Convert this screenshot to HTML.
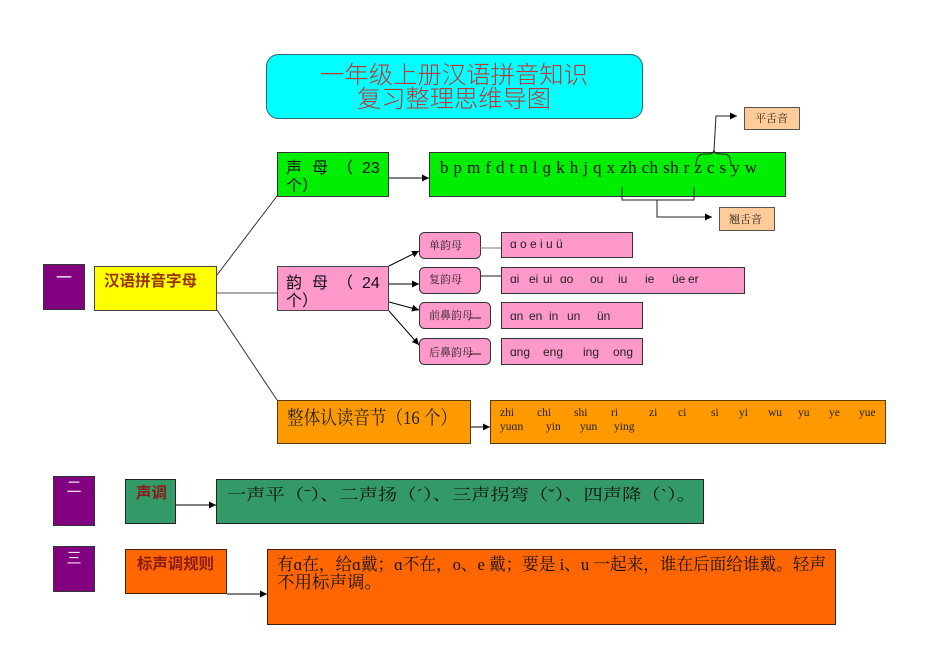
<!DOCTYPE html>
<html><head><meta charset="utf-8"><style>
html,body{margin:0;padding:0;background:#fff;width:950px;height:672px;overflow:hidden}
svg{display:block}
.sans{font-family:"Liberation Sans","Noto Sans CJK SC",sans-serif}
.serif{font-family:"Liberation Serif","Noto Serif CJK SC",serif}
</style></head><body>
<svg width="950" height="672" viewBox="0 0 950 672" xmlns="http://www.w3.org/2000/svg">
<defs>
<marker id="ah" viewBox="0 0 10 10" refX="10" refY="5" markerWidth="7" markerHeight="7" orient="auto" markerUnits="userSpaceOnUse">
<path d="M0,0 L10,5 L0,10 z" fill="#000"/></marker>
</defs>

<!-- Title -->
<rect x="266.5" y="54.5" width="376" height="64" rx="12" ry="12" fill="#00FFFF" stroke="#2F6B6B" stroke-width="1"/>
<text class="sans" x="320" y="83" font-size="24" font-weight="300" fill="#C03434" textLength="268" lengthAdjust="spacingAndGlyphs">一年级上册汉语拼音知识</text>
<text class="sans" x="357" y="107" font-size="24" font-weight="300" fill="#C03434" textLength="194" lengthAdjust="spacingAndGlyphs">复习整理思维导图</text>

<!-- connector lines from yellow -->
<line x1="217" y1="275" x2="277" y2="196" stroke="#333" stroke-width="1"/>
<line x1="217" y1="293" x2="277" y2="293" stroke="#555" stroke-width="1"/>
<line x1="217" y1="310" x2="277" y2="400" stroke="#333" stroke-width="1"/>

<!-- 声母 -->
<rect x="277.5" y="152.5" width="111" height="44" fill="#00EE00" stroke="#333" stroke-width="1"/>
<text class="sans" font-size="16" fill="#111">
<tspan x="286" y="173">声</tspan><tspan x="312" y="173">母</tspan><tspan x="337" y="173">（</tspan><tspan x="362" y="173">23</tspan>
<tspan x="286" y="191">个）</tspan></text>
<line x1="389" y1="178" x2="429" y2="178" stroke="#000" stroke-width="1" marker-end="url(#ah)"/>

<!-- letters -->
<rect x="429.5" y="152.5" width="356" height="44" fill="#00EE00" stroke="#333" stroke-width="1"/>
<text class="serif" x="440" y="173" font-size="17" fill="#111" textLength="317" lengthAdjust="spacing">b p m f d t n l ɡ k h j q x zh ch sh r z c s y w</text>

<!-- bracket under zh..z -->
<polyline points="622,187 622,200 694,200 694,187" fill="none" stroke="#222" stroke-width="1"/>
<polyline points="657,200 657,217 712,217" fill="none" stroke="#222" stroke-width="1" marker-end="url(#ah)"/>
<rect x="719.5" y="207.5" width="55" height="23" fill="#FFCC99" stroke="#555" stroke-width="1"/>
<text class="serif" x="729" y="223" font-size="11" fill="#222">翘舌音</text>

<!-- brace above z c s y -->
<path d="M696,166 Q696,154 704,154 L709,154 Q713,154 714,150 Q715,154 719,154 L724,154 Q731,154 731,166" fill="none" stroke="#222" stroke-width="1"/>
<polyline points="714,150 716,116 737,116" fill="none" stroke="#222" stroke-width="1" marker-end="url(#ah)"/>
<rect x="744.5" y="107.5" width="55" height="22" fill="#FFCC99" stroke="#555" stroke-width="1"/>
<text class="serif" x="755" y="122" font-size="11" fill="#222">平舌音</text>

<!-- 一 -->
<rect x="43.5" y="264.5" width="41" height="45" fill="#800080" stroke="#333" stroke-width="1"/>
<text class="sans" x="64" y="283" font-size="16" fill="#fff" text-anchor="middle">一</text>

<!-- yellow -->
<rect x="94.5" y="266.5" width="122" height="44" fill="#FFFF00" stroke="#444" stroke-width="1"/>
<text class="sans" x="104" y="286" font-size="15.5" font-weight="bold" fill="#993300" textLength="93" lengthAdjust="spacingAndGlyphs">汉语拼音字母</text>

<!-- 韵母 -->
<rect x="277.5" y="266.5" width="111" height="44" fill="#FF99CC" stroke="#444" stroke-width="1"/>
<text class="sans" font-size="16" fill="#111">
<tspan x="286" y="288">韵</tspan><tspan x="312" y="288">母</tspan><tspan x="337" y="288">（</tspan><tspan x="362" y="288">24</tspan>
<tspan x="286" y="306">个）</tspan></text>

<line x1="389" y1="266" x2="419" y2="251" stroke="#000" stroke-width="1" marker-end="url(#ah)"/>
<line x1="389" y1="284" x2="419" y2="284" stroke="#000" stroke-width="1" marker-end="url(#ah)"/>
<line x1="389" y1="302" x2="419" y2="310" stroke="#000" stroke-width="1" marker-end="url(#ah)"/>
<line x1="389" y1="311" x2="419" y2="345" stroke="#000" stroke-width="1" marker-end="url(#ah)"/>

<!-- 单韵母 -->
<rect x="419.5" y="232.5" width="61" height="26" rx="5" fill="#FF99CC" stroke="#333" stroke-width="1"/>
<text class="serif" x="429" y="249" font-size="11" fill="#222">单韵母</text>
<line x1="480" y1="248" x2="501" y2="248" stroke="#777" stroke-width="1"/>
<rect x="501.5" y="232.5" width="131" height="25" fill="#FF99CC" stroke="#333" stroke-width="1"/>
<text class="sans" x="510" y="248" font-size="12" fill="#222">ɑ o e i u ü</text>

<!-- 复韵母 -->
<rect x="419.5" y="267.5" width="61" height="26" rx="5" fill="#FF99CC" stroke="#333" stroke-width="1"/>
<text class="serif" x="429" y="283" font-size="11" fill="#222">复韵母</text>
<line x1="480" y1="276" x2="501" y2="276" stroke="#222" stroke-width="1"/>
<rect x="501.5" y="267.5" width="243" height="26" fill="#FF99CC" stroke="#333" stroke-width="1"/>
<text class="sans" font-size="12" fill="#222">
<tspan x="510" y="283">ɑi</tspan><tspan x="529" y="283">ei</tspan><tspan x="543" y="283">ui</tspan><tspan x="560" y="283">ɑo</tspan><tspan x="590" y="283">ou</tspan><tspan x="618" y="283">iu</tspan><tspan x="645" y="283">ie</tspan><tspan x="672" y="283">üe</tspan><tspan x="688" y="283">er</tspan></text>

<!-- 前鼻韵母 -->
<rect x="419.5" y="302.5" width="71" height="26" rx="5" fill="#FF99CC" stroke="#333" stroke-width="1"/>
<text class="serif" x="429" y="319" font-size="11" fill="#222">前鼻韵母</text>
<line x1="470" y1="318" x2="481" y2="318" stroke="#222" stroke-width="1"/>
<rect x="501.5" y="302.5" width="141" height="26" fill="#FF99CC" stroke="#333" stroke-width="1"/>
<text class="sans" font-size="12" fill="#222">
<tspan x="510" y="320">ɑn</tspan><tspan x="529" y="320">en</tspan><tspan x="549" y="320">in</tspan><tspan x="567" y="320">un</tspan><tspan x="597" y="320">ün</tspan></text>

<!-- 后鼻韵母 -->
<rect x="419.5" y="338.5" width="71" height="26" rx="5" fill="#FF99CC" stroke="#333" stroke-width="1"/>
<text class="serif" x="429" y="356" font-size="11" fill="#222">后鼻韵母</text>
<line x1="470" y1="354" x2="481" y2="354" stroke="#222" stroke-width="1"/>
<rect x="501.5" y="338.5" width="141" height="26" fill="#FF99CC" stroke="#333" stroke-width="1"/>
<text class="sans" font-size="12" fill="#222">
<tspan x="510" y="356">ɑng</tspan><tspan x="543" y="356">eng</tspan><tspan x="583" y="356">ing</tspan><tspan x="613" y="356">ong</tspan></text>

<!-- 整体认读音节 -->
<rect x="277.5" y="400.5" width="193" height="43" fill="#FF9900" stroke="#5a3a00" stroke-width="1"/>
<text class="serif" x="287" y="424" font-size="19" fill="#222" textLength="170" lengthAdjust="spacingAndGlyphs">整体认读音节（16 个）</text>
<line x1="471" y1="427" x2="490" y2="427" stroke="#000" stroke-width="1" marker-end="url(#ah)"/>
<rect x="490.5" y="400.5" width="395" height="43" fill="#FF9900" stroke="#5a3a00" stroke-width="1"/>
<text class="serif" font-size="11.5" fill="#222">
<tspan x="500" y="416">zhi</tspan><tspan x="537" y="416">chi</tspan><tspan x="574" y="416">shi</tspan><tspan x="611" y="416">ri</tspan><tspan x="649" y="416">zi</tspan><tspan x="678" y="416">ci</tspan><tspan x="711" y="416">si</tspan><tspan x="739" y="416">yi</tspan><tspan x="768" y="416">wu</tspan><tspan x="798" y="416">yu</tspan><tspan x="829" y="416">ye</tspan><tspan x="859" y="416">yue</tspan>
<tspan x="500" y="430">yuɑn</tspan><tspan x="546" y="430">yin</tspan><tspan x="580" y="430">yun</tspan><tspan x="614" y="430">ying</tspan></text>

<!-- 二 声调 -->
<rect x="53.5" y="476.5" width="41" height="49" fill="#800080" stroke="#333" stroke-width="1"/>
<text class="sans" x="74" y="492" font-size="15" fill="#F0E0F0" text-anchor="middle">二</text>
<rect x="125.5" y="479.5" width="50" height="44" fill="#339966" stroke="#222" stroke-width="1"/>
<text class="sans" x="136" y="498" font-size="15.5" font-weight="bold" fill="#8B1A1A" textLength="31" lengthAdjust="spacingAndGlyphs">声调</text>
<line x1="176" y1="505" x2="216" y2="505" stroke="#000" stroke-width="1" marker-end="url(#ah)"/>
<rect x="216.5" y="479.5" width="487" height="44" fill="#339966" stroke="#222" stroke-width="1"/>
<text class="serif" x="227" y="500" font-size="16" fill="#111" textLength="469" lengthAdjust="spacingAndGlyphs">一声平（ˉ）、二声扬（ˊ）、三声拐弯（ˇ）、四声降（ˋ）。</text>

<!-- 三 标声调规则 -->
<rect x="53.5" y="546.5" width="41" height="45" fill="#800080" stroke="#333" stroke-width="1"/>
<text class="sans" x="74" y="563" font-size="15" fill="#F0E0F0" text-anchor="middle">三</text>
<rect x="125.5" y="549.5" width="101" height="44" fill="#FF6600" stroke="#442200" stroke-width="1"/>
<text class="sans" x="137" y="569" font-size="15.5" font-weight="bold" fill="#8B1A1A" textLength="77" lengthAdjust="spacingAndGlyphs">标声调规则</text>
<line x1="227" y1="594" x2="267" y2="594" stroke="#000" stroke-width="1" marker-end="url(#ah)"/>
<rect x="267.5" y="549.5" width="568" height="75" fill="#FF6600" stroke="#442200" stroke-width="1"/>
<text class="serif" x="277" y="570" font-size="17" fill="#111" textLength="549" lengthAdjust="spacingAndGlyphs">有ɑ在，给ɑ戴；ɑ不在，o、e 戴；要是 i、u 一起来，谁在后面给谁戴。轻声</text>
<text class="serif" x="277" y="588" font-size="17" fill="#111" textLength="105" lengthAdjust="spacingAndGlyphs">不用标声调。</text>
</svg>
</body></html>
